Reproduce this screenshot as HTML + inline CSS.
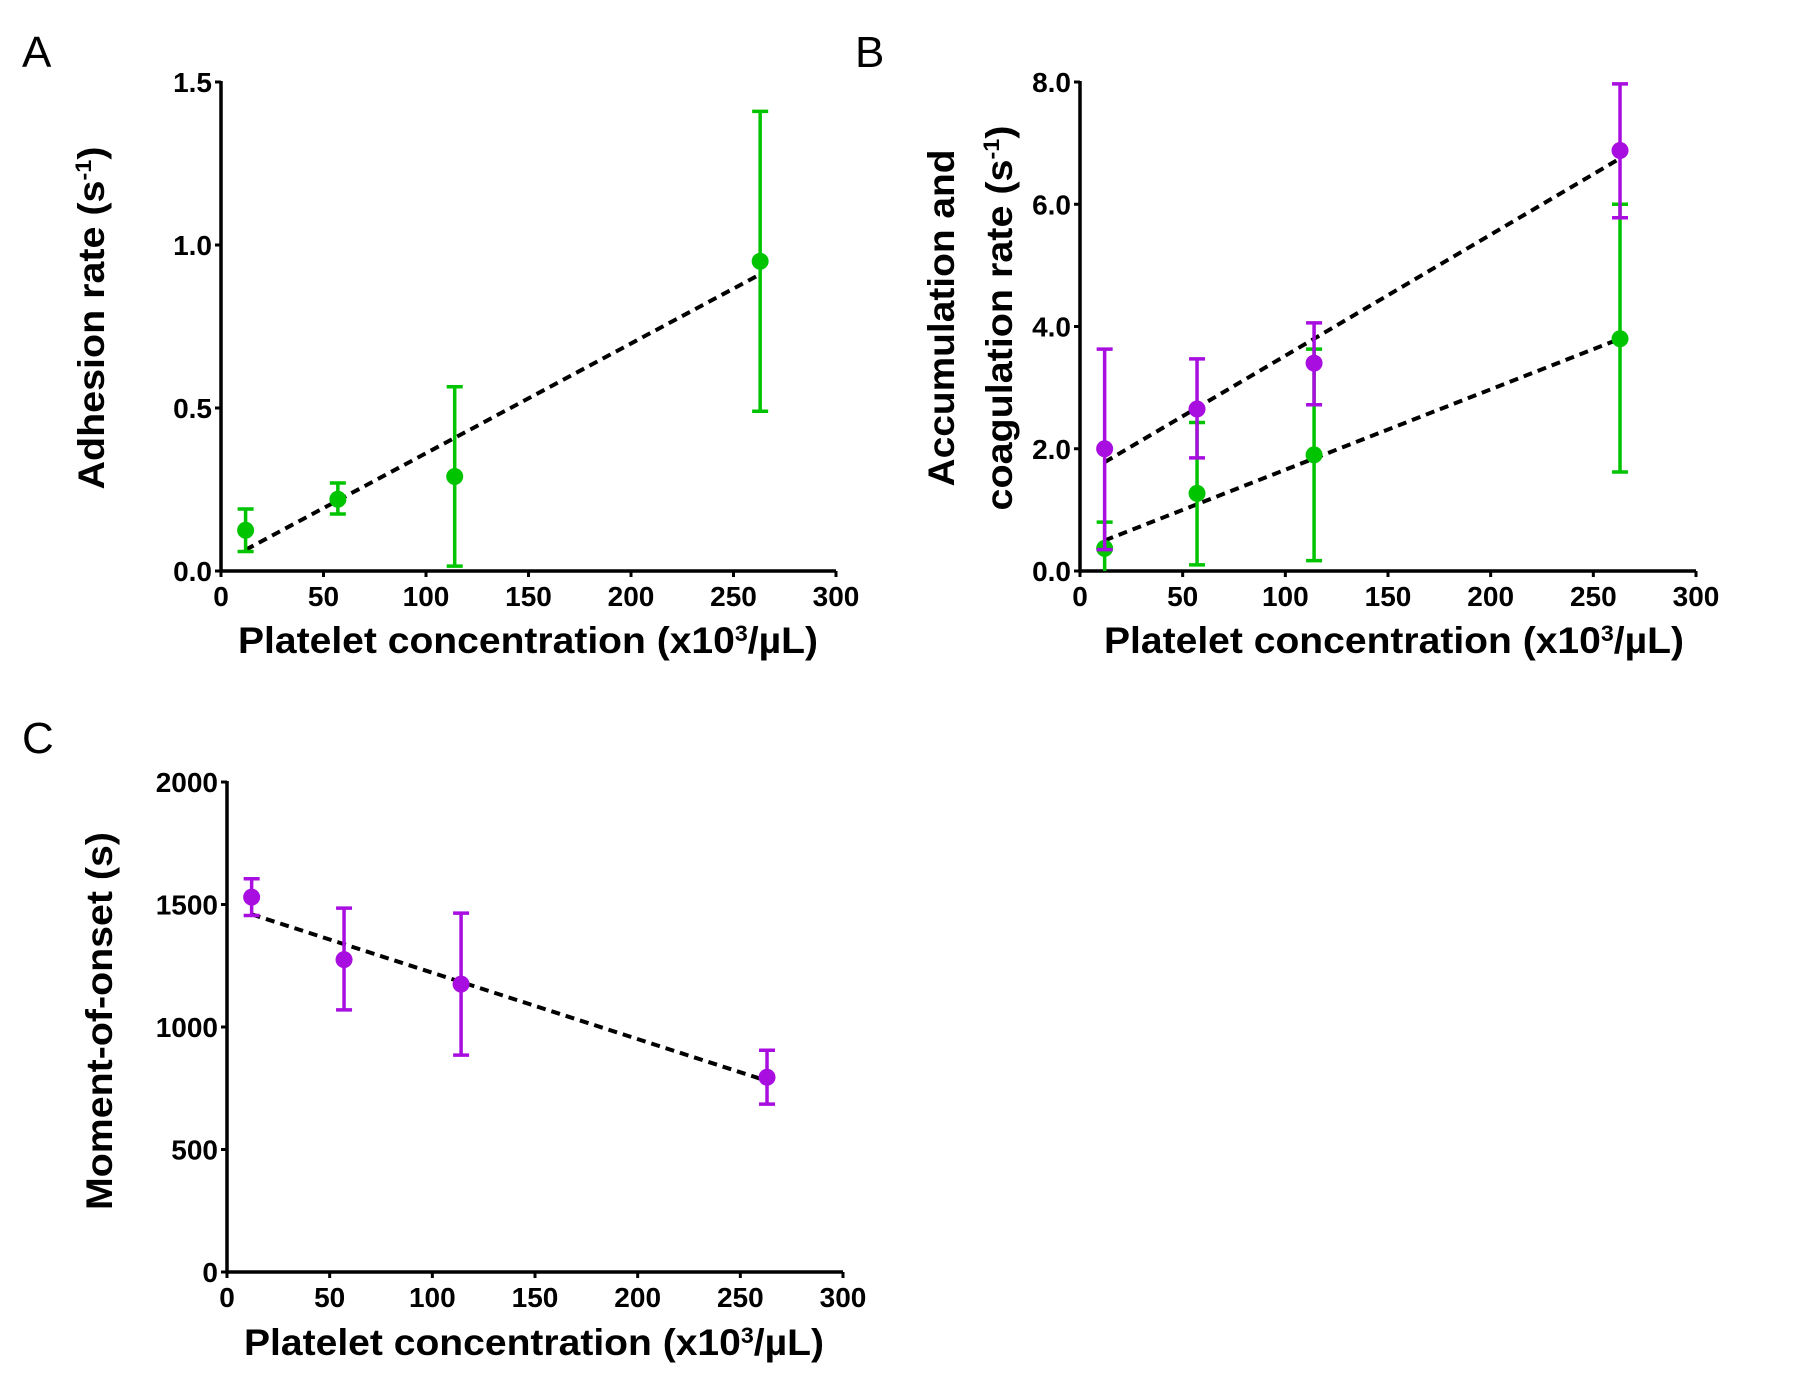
<!DOCTYPE html>
<html><head><meta charset="utf-8"><style>
html,body{margin:0;padding:0;background:#fff;}
svg{display:block;font-family:"Liberation Sans",Arial,sans-serif;}
</style></head><body>
<svg id="fig" width="1800" height="1398" viewBox="0 0 1800 1398" xmlns="http://www.w3.org/2000/svg"></svg>
<script>
// ---- data ----
const xCats = [12, 57, 114, 263];
const xTicks = [0, 50, 100, 150, 200, 250, 300];
// Panel A (adhesion rate)
const aMean = [0.125, 0.22, 0.29, 0.95];
const aLow = [0.06, 0.175, 0.015, 0.49];
const aHigh = [0.19, 0.27, 0.565, 1.41];
const aFit = [0.065, 0.91];
const aTicks = ["0.0", "0.5", "1.0", "1.5"];
// Panel B purple (coagulation)
const bPMean = [2.0, 2.65, 3.4, 6.88];
const bPLow = [0.35, 1.85, 2.72, 5.78];
const bPHigh = [3.63, 3.47, 4.06, 7.97];
const bPFit = [1.78, 6.75];
// Panel B green (accumulation)
const bGMean = [0.37, 1.27, 1.9, 3.8];
const bGLow = [0.0, 0.1, 0.17, 1.62];
const bGHigh = [0.8, 2.43, 3.63, 6.0];
const bGFit = [0.5, 3.8];
const bTicks = ["0.0", "2.0", "4.0", "6.0", "8.0"];
// Panel C (moment of onset)
const cMean = [1530, 1275, 1175, 795];
const cLow = [1455, 1070, 885, 685];
const cHigh = [1605, 1485, 1465, 905];
const cFit = [1460, 780];
const cTicks = ["0", "500", "1000", "1500", "2000"];
const fitX = [12, 263];

const NS = "http://www.w3.org/2000/svg";
const svg = document.getElementById('fig');
const GREEN = "#00c400", PURPLE = "#a80ee0";
function el(tag, attrs, parent) {
  const e = document.createElementNS(NS, tag);
  for (const k in attrs) e.setAttribute(k, attrs[k]);
  (parent || svg).appendChild(e);
  return e;
}
function panel(p) {
  const g = el('g', {});
  
  
  const sx = v => p.x0 + (v - 0) / 300 * (p.x1 - p.x0);
  const sy = v => p.y0 - (v - p.ymin) / (p.ymax - p.ymin) * (p.y0 - p.y1);
  const ax = el('path', {d: `M${p.x0},${p.y1 - 1}V${p.y0}H${p.x1}`, stroke: '#000', 'stroke-width': 3.5, fill: 'none'}, g);
  
  
  p.yticks.forEach((t) => {
    const y = sy(parseFloat(t));
    el('line', {x1: p.x0 - 6, x2: p.x0, y1: y, y2: y, stroke: '#000', 'stroke-width': 3}, g);
    const tx = el('text', {x: p.x0 - 9, y: y + 10, 'text-anchor': 'end', 'font-size': 28, 'font-weight': 'bold'}, g);
    tx.textContent = t;
    
    
  });
  xTicks.forEach(t => {
    const x = sx(t);
    el('line', {x1: x, x2: x, y1: p.y0, y2: p.y0 + 6, stroke: '#000', 'stroke-width': 3}, g);
    const tx = el('text', {x: x, y: p.y0 + 35, 'text-anchor': 'middle', 'font-size': 28, 'font-weight': 'bold'}, g);
    tx.textContent = t;
    
    
  });
  const xt = el('text', {x: p.xtX, y: p.xtY, 'font-size': 37, 'font-weight': 'bold', textLength: 580, lengthAdjust: 'spacingAndGlyphs'}, g);
  xt.innerHTML = 'Platelet concentration (x10<tspan dy="-12" font-size="22">3</tspan><tspan dy="12">/µL)</tspan>';
  
  
  const pl = el('text', {x: p.lx, y: p.ly, 'font-size': 44}, g);
  pl.textContent = p.label;
  
  
  p.series.forEach(s => {
    const fl = el('line', {x1: sx(fitX[0]), y1: sy(s.fit[0]), x2: sx(fitX[1]), y2: sy(s.fit[1]), stroke: '#000', 'stroke-width': 4, 'stroke-dasharray': '9,6'}, g);
    
    
  });
  p.series.forEach(s => {
    xCats.forEach((c, i) => {
      const x = sx(c);
      const lo = Math.max(s.low[i], p.ymin);
      const eb = el('path', {d: `M${x},${sy(lo)}V${sy(s.high[i])}M${x - 8},${sy(s.high[i])}H${x + 8}` + (s.low[i] > p.ymin ? `M${x - 8},${sy(lo)}H${x + 8}` : ''), stroke: s.color, 'stroke-width': 3.5, fill: 'none'}, g);
      
      
      const pt = el('circle', {cx: x, cy: sy(s.mean[i]), r: 8.5, fill: s.color}, g);
      
      
    });
  });
  return g;
}
const gA = panel({name: 'panel-a', label: 'A', lx: 22, ly: 67, x0: 221, x1: 836, y0: 571, y1: 82, ymin: 0, ymax: 1.5,
  yticks: aTicks, xtX: 238, xtY: 653,
  series: [{mean: aMean, low: aLow, high: aHigh, fit: aFit, color: GREEN}]});
const gB = panel({name: 'panel-b', label: 'B', lx: 855, ly: 67, x0: 1080, x1: 1696, y0: 571, y1: 82, ymin: 0, ymax: 8,
  yticks: bTicks, xtX: 1104, xtY: 653,
  series: [{mean: bGMean, low: bGLow, high: bGHigh, fit: bGFit, color: GREEN},
           {mean: bPMean, low: bPLow, high: bPHigh, fit: bPFit, color: PURPLE}]});
const gC = panel({name: 'panel-c', label: 'C', lx: 22, ly: 753, x0: 227, x1: 843, y0: 1272, y1: 782, ymin: 0, ymax: 2000,
  yticks: cTicks, xtX: 244, xtY: 1355,
  series: [{mean: cMean, low: cLow, high: cHigh, fit: cFit, color: PURPLE}]});

function ytitle(x, cy, len, html, name) {
  const t = el('text', {x: 0, y: 0, 'font-size': 37, 'font-weight': 'bold', 'text-anchor': 'middle', textLength: len, lengthAdjust: 'spacingAndGlyphs', transform: `translate(${x},${cy}) rotate(-90)`});
  t.innerHTML = html;
  
  
}
ytitle(104, 318, 343, 'Adhesion rate (s<tspan dy="-13" font-size="22">-1</tspan><tspan dy="13">)</tspan>', 'y-axis-title-a');
ytitle(954, 318, 337, 'Accumulation and', 'y-axis-title-b-line1');
ytitle(1012, 318, 385, 'coagulation rate (s<tspan dy="-13" font-size="22">-1</tspan><tspan dy="13">)</tspan>', 'y-axis-title-b-line2');
ytitle(112, 1021, 378, 'Moment-of-onset (s)', 'y-axis-title-c');
</script>
</body></html>
